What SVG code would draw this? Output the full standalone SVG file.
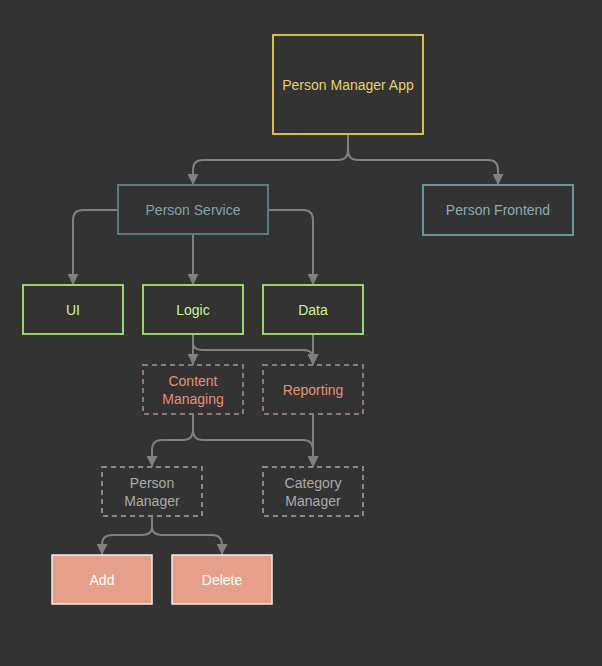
<svg xmlns="http://www.w3.org/2000/svg" width="602" height="666" viewBox="0 0 602 666">
<style>
text{font-family:"Liberation Sans",Arial,sans-serif;font-size:14px;text-anchor:middle;dominant-baseline:central}
.c{fill:none;stroke:#808080;stroke-width:2}
.app rect{fill:#333;stroke:#d4bf4f;stroke-width:2}.app text{fill:#e6d070}
.svc rect{fill:#333;stroke:#5b7b80;stroke-width:2}.svc text{fill:#7fa3a8}
.fe rect{fill:#333;stroke:#6a969b;stroke-width:2}.fe text{fill:#8aadb2}
.lay rect{fill:#333;stroke:#99d36a;stroke-width:2}.lay text{fill:#cdf29a}
.mod rect{fill:#333;stroke:#8f7a77;stroke-width:2;stroke-dasharray:5 4}.mod text{fill:#e3907d}
.sub rect{fill:#333;stroke:#888;stroke-width:2;stroke-dasharray:5 4}.sub text{fill:#aaa}
.act rect{fill:#e6a08a;stroke:#eee;stroke-width:1.5}.act text{fill:#fff}
</style>
<defs>
<marker id="a" viewBox="0 0 10 10" refX="10" refY="5" markerWidth="5.5" markerHeight="5.5" orient="auto" markerUnits="strokeWidth"><path d="M0,0L10,5L0,10z" fill="#808080"/></marker>
</defs>
<rect width="602" height="666" fill="#333"/>
<g id="connectors">
<path class="c" marker-end="url(#a)" d="M348,135V150Q348,160 338,160H203Q193,160 193,170V185"/>
<path class="c" marker-end="url(#a)" d="M348,135V150Q348,160 358,160H488Q498,160 498,170V185"/>
<path class="c" marker-end="url(#a)" d="M118,210H83Q73,210 73,220V285"/>
<path class="c" marker-end="url(#a)" d="M193,235V285"/>
<path class="c" marker-end="url(#a)" d="M268,210H303Q313,210 313,220V285"/>
<path class="c" marker-end="url(#a)" d="M193,335V365"/>
<path class="c" marker-end="url(#a)" d="M193,335V343Q193,350 203,350H303Q313,350 313,358V365"/>
<path class="c" marker-end="url(#a)" d="M313,335V365"/>
<path class="c" marker-end="url(#a)" d="M193,415V430Q193,440 183,440H162Q152,440 152,450V467"/>
<path class="c" marker-end="url(#a)" d="M193,415V430Q193,440 203,440H303Q313,440 313,450V467"/>
<path class="c" marker-end="url(#a)" d="M313,415V467"/>
<path class="c" marker-end="url(#a)" d="M152,517V527Q152,535 142,535H112Q102,535 102,545V555"/>
<path class="c" marker-end="url(#a)" d="M152,517V527Q152,535 162,535H212Q222,535 222,545V555"/>
</g>
<g id="app" class="app"><rect x="273" y="35" width="150" height="99"/><text x="348" y="85">Person Manager App</text></g>
<g id="service" class="svc"><rect x="118" y="185" width="150" height="49"/><text x="193" y="210">Person Service</text></g>
<g id="frontend" class="fe"><rect x="423" y="185" width="150" height="50"/><text x="498" y="210">Person Frontend</text></g>
<g id="ui" class="lay"><rect x="23" y="285" width="100" height="49"/><text x="73" y="310">UI</text></g>
<g id="logic" class="lay"><rect x="143" y="285" width="100" height="49"/><text x="193" y="310">Logic</text></g>
<g id="data" class="lay"><rect x="263" y="285" width="100" height="49"/><text x="313" y="310">Data</text></g>
<g id="content" class="mod"><rect x="143" y="365" width="100" height="49"/><text x="193" y="381">Content</text><text x="193" y="399">Managing</text></g>
<g id="reporting" class="mod"><rect x="263" y="365" width="100" height="49"/><text x="313" y="390">Reporting</text></g>
<g id="personmgr" class="sub"><rect x="102" y="467" width="100" height="49"/><text x="152" y="483">Person</text><text x="152" y="501">Manager</text></g>
<g id="categorymgr" class="sub"><rect x="263" y="467" width="100" height="49"/><text x="313" y="483">Category</text><text x="313" y="501">Manager</text></g>
<g id="add" class="act"><rect x="52" y="555" width="100" height="49"/><text x="102" y="580">Add</text></g>
<g id="delete" class="act"><rect x="172" y="555" width="100" height="49"/><text x="222" y="580">Delete</text></g>
</svg>
